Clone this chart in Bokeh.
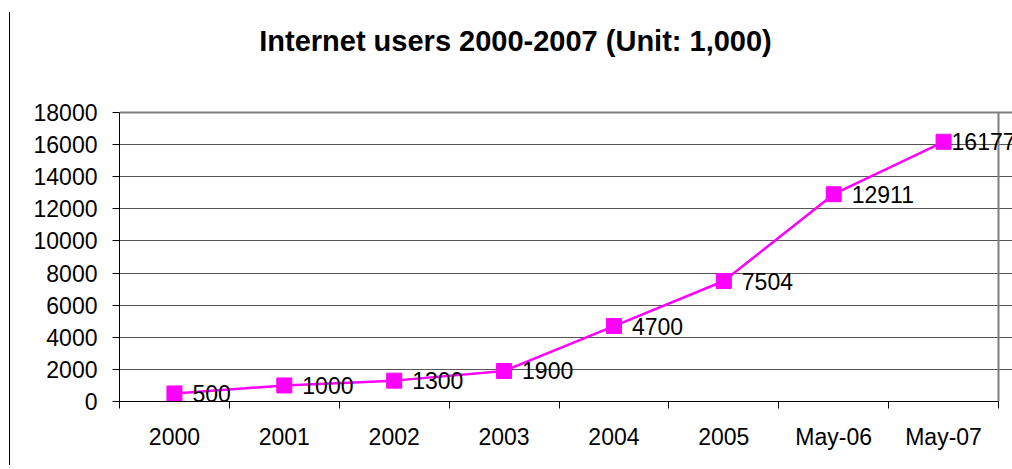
from bokeh.plotting import figure
from bokeh.models import ColumnDataSource, FixedTicker, LabelSet, Label, Range1d, Grid, BoxAnnotation
from bokeh.core.properties import value
from bokeh.embed import file_html
from bokeh.resources import INLINE

categories = ["2000", "2001", "2002", "2003", "2004", "2005", "May-06", "May-07"]
users = [500, 1000, 1300, 1900, 4700, 7504, 12911, 16177]
y_ticks = list(range(0, 18001, 2000))
title_text = "Internet users 2000-2007 (Unit: 1,000)"

FONT = "Liberation Sans"
label_dx = [18, 18, 18, 18, 18, 18, 18, 8]

# layout in pixels
W, H = 1012, 465
LEFT, RIGHT_BOX, TOP_BOX, BOTTOM = 119, 998, 112, 401
TITLE_CX, TITLE_CY = 515, 40

n = len(categories)
y_max = y_ticks[-1]
xs = [i + 0.5 for i in range(n)]
src = ColumnDataSource(dict(x=xs, y=users, txt=[str(v) for v in users], dx=label_dx))

# the frame runs past the visible plot box (up to the top and right page edges)
# so that the title, the last label and the box borders are not clipped
x_end = n * (W - LEFT) / (RIGHT_BOX - LEFT)
y_end = y_max * BOTTOM / (BOTTOM - TOP_BOX)

p = figure(width=W, height=H, output_backend="svg", toolbar_location=None,
           x_range=Range1d(0, x_end), y_range=Range1d(0, y_end),
           min_border_left=LEFT, min_border_right=0, min_border_top=0,
           min_border_bottom=H - BOTTOM)
p.styles = {
    "background-image": "linear-gradient(black, black)",
    "background-repeat": "no-repeat",
    "background-size": "1px 460px",
    "background-position": "9px 12px",
}
p.background_fill_alpha = 0
p.border_fill_alpha = 0
p.outline_line_color = None

p.xgrid.grid_line_color = None
p.ygrid.ticker = FixedTicker(ticks=y_ticks[:-1])
p.ygrid.bounds = (0, n)
p.ygrid.grid_line_color = "#555555"
p.ygrid.grid_line_width = 1

top_grid = Grid(dimension=1, ticker=FixedTicker(ticks=[y_max]), bounds=(0, n),
                grid_line_color="#808080", grid_line_width=2)
p.add_layout(top_grid)
right_border = BoxAnnotation(left=n, right=n, bottom=0, top=y_max, fill_alpha=0,
                             line_color="#808080", line_alpha=1.0, line_width=2,
                             level="underlay")
p.add_layout(right_border)

p.line("x", "y", source=src, line_color="#FF00FF", line_width=2.5)
p.scatter("x", "y", source=src, marker="square", size=15, fill_color="#FF00FF", line_color="#FF00FF")

labels = LabelSet(x="x", y="y", text="txt", source=src, x_offset="dx", y_offset=0,
                  text_font=value(FONT), text_font_size="23px", text_color="black",
                  text_baseline="middle", text_align="left")
p.add_layout(labels)

title = Label(x=TITLE_CX - LEFT, y=BOTTOM - TITLE_CY, x_units="screen", y_units="screen",
              text=title_text, text_font=FONT, text_font_size="29px",
              text_font_style="bold", text_align="center", text_baseline="middle",
              text_color="black")
p.add_layout(title)

# x axis: labels at category centres, tick marks at category boundaries
p.xaxis.bounds = (0, n)
p.xaxis.ticker = FixedTicker(ticks=xs, minor_ticks=list(range(n + 1)))
p.xaxis.major_label_overrides = {x: c for x, c in zip(xs, categories)}
p.xaxis.major_tick_out = 0
p.xaxis.major_tick_in = 0
p.xaxis.minor_tick_out = 7
p.xaxis.minor_tick_in = 0
p.xaxis.minor_tick_line_color = "black"
p.xaxis.major_label_standoff = 15
p.xaxis.axis_line_color = "black"
p.xaxis.major_label_text_font = FONT
p.xaxis.major_label_text_font_size = "23px"
p.xaxis.major_label_text_color = "black"

p.yaxis.bounds = (0, y_max)
p.yaxis.ticker = FixedTicker(ticks=y_ticks, minor_ticks=[])
p.yaxis.major_tick_out = 7
p.yaxis.major_tick_in = 0
p.yaxis.major_tick_line_color = "black"
p.yaxis.major_label_standoff = 15
p.yaxis.axis_line_color = "black"
p.yaxis.major_label_text_font = FONT
p.yaxis.major_label_text_font_size = "23px"
p.yaxis.major_label_text_color = "black"

open("out.html", "w").write(file_html(p, INLINE))
